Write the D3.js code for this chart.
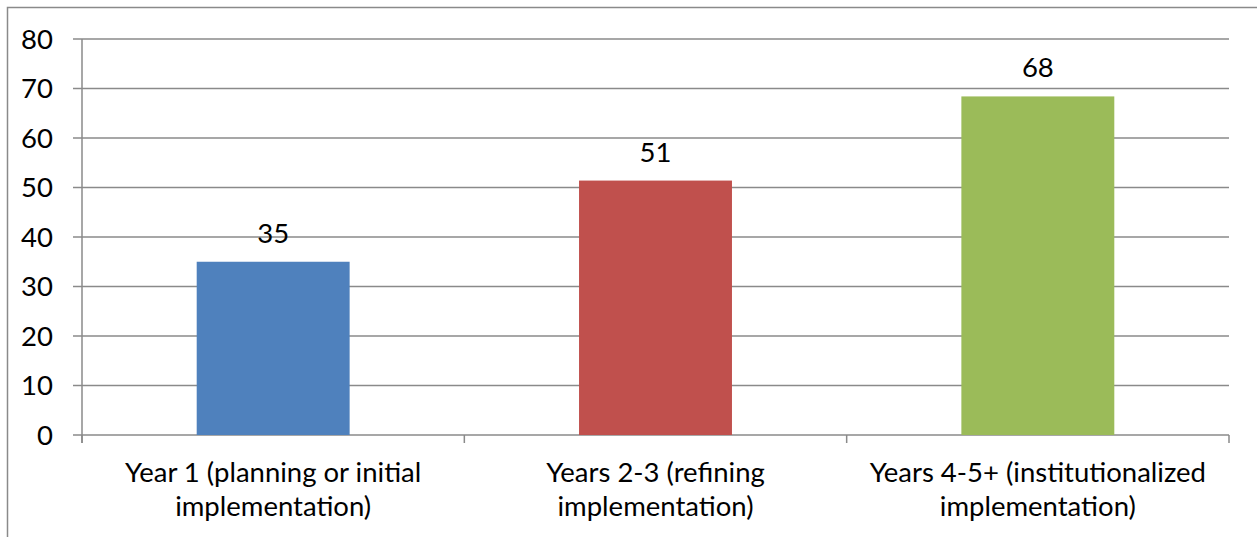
<!DOCTYPE html>
<html>
<head>
<meta charset="utf-8">
<script src="https://cdn.jsdelivr.net/npm/d3@7"></script>
<style>
  body { margin: 0; background: #fff; }
  svg text { font-family: Lato, "Open Sans", sans-serif; fill: #000; }
</style>
</head>
<body>
<svg id="chart"></svg>
<script>
// data
const categories = [
  ["Year 1 (planning or initial", "implementation)"],
  ["Years 2-3 (refining", "implementation)"],
  ["Years 4-5+ (institutionalized", "implementation)"],
];
const values = [35, 51.4, 68.4];
const barColors = ["#4f81bd", "#c0504d", "#9bbb59"];
const yTicks = [0, 10, 20, 30, 40, 50, 60, 70, 80];

const W = 1257, H = 537;
const M = { top: 39, left: 82, right: 28, bottom: 102 };
const FONT = 27.5;

const svg = d3.select("#chart").attr("width", W).attr("height", H);

// outer frame (only top and left edges are visible in the picture)
svg.append("rect")
  .attr("x", 7.5).attr("y", 7.5)
  .attr("width", W + 20).attr("height", H + 20)
  .attr("fill", "none").attr("stroke", "#8a8a8a").attr("stroke-width", 1.5);

const x = d3.scaleBand()
  .domain(d3.range(categories.length))
  .range([M.left, W - M.right])
  .paddingInner(0.6)
  .paddingOuter(0.3);

const y = d3.scaleLinear().domain([0, 80]).range([H - M.bottom, M.top]);

// gridlines + y ticks
svg.append("g")
  .selectAll("line")
  .data(yTicks)
  .join("line")
  .attr("x1", M.left - 9).attr("x2", W - M.right)
  .attr("y1", (d) => y(d)).attr("y2", (d) => y(d))
  .attr("stroke", "#8a8a8a").attr("stroke-width", 1.5);

svg.append("g")
  .selectAll("text")
  .data(yTicks)
  .join("text")
  .attr("x", M.left - 29)
  .attr("y", (d) => y(d))
  .attr("dy", "0.36em")
  .attr("text-anchor", "end")
  .style("font-size", FONT + "px")
  .text((d) => d);

// y axis line
svg.append("line")
  .attr("x1", M.left).attr("x2", M.left)
  .attr("y1", y(80)).attr("y2", y(0) + 8)
  .attr("stroke", "#8a8a8a").attr("stroke-width", 1.5);

// x category ticks
const step = x.step();
svg.append("g")
  .selectAll("line")
  .data(d3.range(categories.length + 1))
  .join("line")
  .attr("x1", (i) => M.left + i * step).attr("x2", (i) => M.left + i * step)
  .attr("y1", y(0)).attr("y2", y(0) + 8)
  .attr("stroke", "#8a8a8a").attr("stroke-width", 1.5);

// bars
svg.append("g")
  .selectAll("rect")
  .data(values)
  .join("rect")
  .attr("x", (d, i) => x(i))
  .attr("width", x.bandwidth())
  .attr("y", (d) => y(d))
  .attr("height", (d) => y(0) - y(d))
  .attr("fill", (d, i) => barColors[i]);

// value labels
svg.append("g")
  .selectAll("text")
  .data(values)
  .join("text")
  .attr("x", (d, i) => x(i) + x.bandwidth() / 2)
  .attr("y", (d) => y(d) - 19)
  .attr("text-anchor", "middle")
  .style("font-size", FONT + "px")
  .text((d) => d3.format(".0f")(Math.floor(d)));

// category labels
const catG = svg.append("g")
  .selectAll("text")
  .data(categories)
  .join("text")
  .attr("text-anchor", "middle")
  .style("font-size", FONT + "px");
catG.selectAll("tspan")
  .data((d, i) => d.map((line) => ({ line, i })))
  .join("tspan")
  .attr("x", (d) => x(d.i) + x.bandwidth() / 2)
  .attr("y", (d, j) => 482 + j * 34)
  .text((d) => d.line);
</script>
</body>
</html>
